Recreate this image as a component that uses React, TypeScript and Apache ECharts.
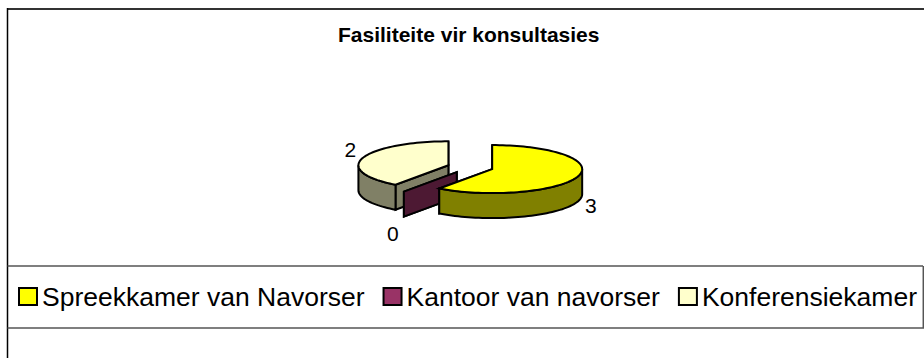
import React, { useEffect, useRef } from "react";
import * as echarts from "echarts";

const categories = ["Spreekkamer van Navorser", "Kantoor van navorser", "Konferensiekamer"];
const values = [3, 0, 2];
const topColors = ["#FFFF00", "#993366", "#FFFFCC"];
const sideColors = ["#808000", "#4D1933", "#808066"];
const EXPLODE = 23;
const labelOffsets = [[13, 29], [-11, 42], [-12.6, -8.6]];
const drawOrder = [2, 1, 0];

const CX = 470.3, CY = 167.2, RX = 90, RY = 24, DEPTH = 25;
const total = values.reduce((a, b) => a + b, 0);

function pt(cx: number, cy: number, a: number, dy = 0): number[] {
  return [cx + RX * Math.sin(a), cy - RY * Math.cos(a) + dy];
}

function arcPts(cx: number, cy: number, a0: number, a1: number, dy = 0) {
  const n = Math.max(1, Math.ceil(Math.abs(a1 - a0) / 0.04));
  const out: number[][] = [];
  for (let i = 0; i <= n; i++) out.push(pt(cx, cy, a0 + ((a1 - a0) * i) / n, dy));
  return out;
}

function sliceRender(idx: number) {
  return (_params: any, api: any) => {
    const value = api.value(0);
    const before = values.slice(0, idx).reduce((a, b) => a + b, 0);
    const a0 = (before / total) * 2 * Math.PI;
    const a1 = ((before + value) / total) * 2 * Math.PI;
    const mid = (a0 + a1) / 2;
    const cx = CX + EXPLODE * Math.sin(mid);
    const cy = CY - ((EXPLODE * RY) / RX) * Math.cos(mid);
    const stroke = { stroke: "#000", lineWidth: 2, lineJoin: "miter" as const };
    const children: any[] = [];
    const side = { fill: sideColors[idx], ...stroke };
    const poly = (points: number[][], style: any) => ({ type: "polygon", shape: { points }, style });
    const wall = (a: number) => {
      const p = pt(cx, cy, a);
      return poly([[cx, cy], p, [p[0], p[1] + DEPTH], [cx, cy + DEPTH]], side);
    };
    children.push(wall(a1), wall(a0));
    const lo = Math.max(a0, Math.PI / 2);
    const hi = Math.min(a1, (3 * Math.PI) / 2);
    if (hi > lo) {
      children.push(poly([...arcPts(cx, cy, lo, hi), ...arcPts(cx, cy, hi, lo, DEPTH)], side));
    }
    if (a1 > a0) {
      children.push(poly([[cx, cy], ...arcPts(cx, cy, a0, a1)], { fill: topColors[idx], ...stroke }));
    }
    const lp = pt(cx, cy, mid);
    children.push({
      type: "text",
      style: {
        text: String(value),
        x: lp[0] + labelOffsets[idx][0],
        y: lp[1] + labelOffsets[idx][1],
        fill: "#000",
        font: "21px 'Liberation Sans'",
        align: "center",
        verticalAlign: "middle",
      },
    });
    return { type: "group", children };
  };
}

export default function App() {
  const ref = useRef<HTMLDivElement>(null);
  useEffect(() => {
    document.body.style.margin = "0";
    const chart = echarts.init(ref.current!, undefined, { renderer: "svg" });
    chart.setOption({
      animation: false,
      title: {
        text: "Fasiliteite vir konsultasies",
        left: 338,
        top: 24,
        padding: 0,
        textStyle: { fontFamily: "'Liberation Sans'", fontSize: 21, fontWeight: "bold", color: "#000" },
      },
      legend: {
        data: categories,
        left: 18,
        top: 283,
        padding: 0,
        itemWidth: 18,
        itemHeight: 17,
        itemGap: 18,
        icon: "rect",
        textStyle: { fontFamily: "'Liberation Sans'", fontSize: 26.5, color: "#000" },
      },
      graphic: [
        { type: "line", shape: { x1: 7.5, y1: 9, x2: 924, y2: 9 }, style: { stroke: "#333", lineWidth: 2 }, silent: true },
        { type: "line", shape: { x1: 7.5, y1: 8, x2: 7.5, y2: 358 }, style: { stroke: "#000", lineWidth: 1.5 }, silent: true },
        { type: "line", shape: { x1: 7.5, y1: 266, x2: 923, y2: 266 }, style: { stroke: "#555", lineWidth: 1.5 }, silent: true },
        { type: "line", shape: { x1: 7.5, y1: 328, x2: 924, y2: 328 }, style: { stroke: "#555", lineWidth: 1.5 }, silent: true },
        { type: "line", shape: { x1: 923.3, y1: 266, x2: 923.3, y2: 328 }, style: { stroke: "#555", lineWidth: 1.5 }, silent: true },
      ],
      series: drawOrder.map((i) => ({
        type: "custom",
        name: categories[i],
        coordinateSystem: "none",
        data: [[values[i]]],
        itemStyle: { color: topColors[i], borderColor: "#000", borderWidth: 1.5 },
        renderItem: sliceRender(i),
        silent: true,
      })),
    });
    return () => chart.dispose();
  }, []);
  return <div ref={ref} style={{ width: 924, height: 358 }} />;
}
